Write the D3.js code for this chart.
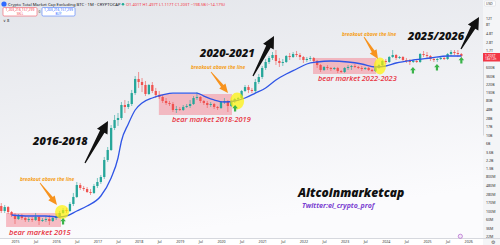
<!DOCTYPE html>
<html><head><meta charset="utf-8">
<script src="https://cdn.jsdelivr.net/npm/d3@7"></script>
<style>html,body{margin:0;padding:0;background:#fff;overflow:hidden}svg{display:block}</style>
</head><body><svg id="c" width="500" height="245"></svg>
<script>
// ---- DATA (values in billions USD, monthly candles, first candle Sep 2014) ----
const firstMonthIndex = -4; // months relative to Jan 2015
const opens = [0.135,0.100,0.127,0.0941,0.0785,0.0616,0.0739,0.0654,0.058,0.0616,0.058,0.0695,0.0546,0.058,0.0616,0.0546,0.0654,0.0739,0.0886,0.106,0.100,0.153,0.234,0.483,0.403,0.379,0.316,0.298,0.455,0.58,0.785,2.2,4.03,15.3,24.8,28.0,61.6,54.6,65.4,127,298,248,207,120,207,144,113,100,78.5,69.5,65.4,45.5,48.3,45.5,54.6,58.0,65.4,94.1,100,78.5,69.5,61.6,65.4,54.6,51.3,73.9,78.5,58.0,78.5,88.6,94.1,144,183,153,144,248,336,580,834,1063,1274,886,785,834,1199,1129,1354,1274,1129,941,1000,1063,886,695,514,616,580,546,580,483,455,580,616,654,616,580,546,580,514,483,580,695,886,834,1129,1274,1063,1129,941,886,834,886,834,1354,1274,1199,1000,941,1000,1063,1000,1354,1528,1438,1354];
const highs = [0.162,0.144,0.135,0.100,0.0886,0.0834,0.0834,0.0739,0.0695,0.0695,0.0886,0.0739,0.0654,0.0739,0.0785,0.0739,0.0834,0.100,0.120,0.120,0.172,0.298,0.580,0.546,0.455,0.428,0.379,0.514,0.739,0.886,2.64,4.83,18.3,33.6,37.9,73.9,83.4,78.5,153,357,455,316,264,220,248,173,144,113,94.1,78.5,73.9,58.0,54.6,61.6,65.4,83.4,106,135,106,83.4,78.5,73.9,69.5,58.0,78.5,94.1,83.4,83.4,94.1,100,153,207,207,173,298,403,654,1000,1199,1528,1725,1063,1000,1274,1438,1528,1624,1438,1199,1129,1199,1129,941,739,654,695,616,616,616,514,616,695,695,739,654,654,616,616,546,616,739,941,1000,1199,1725,1354,1199,1199,1063,1000,941,1000,1438,1624,1528,1274,1063,1063,1199,1129,1438,1725,1725,1725,1438];
const lows = [0.0886,0.0886,0.0834,0.0695,0.0455,0.058,0.058,0.0514,0.0514,0.0514,0.0546,0.0428,0.0514,0.0514,0.0428,0.0514,0.058,0.0654,0.0834,0.0886,0.0941,0.135,0.220,0.357,0.336,0.298,0.264,0.280,0.403,0.514,0.695,1.95,3.79,13.5,17.3,24.8,37.9,48.3,58.0,113,173,135,106,113,127,94.1,88.6,69.5,61.6,58.0,40.3,37.9,42.8,42.8,51.3,51.3,61.6,83.4,69.5,61.6,51.3,54.6,48.3,45.5,48.3,65.4,40.3,54.6,69.5,78.5,88.6,135,127,127,127,220,298,514,739,941,695,616,654,785,941,1063,1129,941,785,834,886,785,580,455,483,514,483,514,428,428,428,514,514,580,546,483,514,483,455,455,546,654,739,785,1063,941,1000,886,785,695,785,785,785,1129,1063,886,834,834,941,941,941,1199,1274,1129,1063];
const closes = [0.100,0.127,0.0941,0.0785,0.0616,0.0739,0.0654,0.058,0.0616,0.058,0.0695,0.0546,0.058,0.0616,0.0546,0.0654,0.0739,0.0886,0.106,0.100,0.153,0.234,0.483,0.403,0.379,0.316,0.298,0.455,0.58,0.785,2.2,4.03,15.3,24.8,28.0,61.6,54.6,65.4,127,298,248,207,120,207,144,113,100,78.5,69.5,65.4,45.5,48.3,45.5,54.6,58.0,65.4,94.1,100,78.5,69.5,61.6,65.4,54.6,51.3,73.9,78.5,58.0,78.5,88.6,94.1,144,183,153,144,248,336,580,834,1063,1274,886,785,834,1199,1129,1354,1274,1129,941,1000,1063,886,695,514,616,580,546,580,483,455,580,616,654,616,580,546,580,514,483,580,695,886,834,1129,1274,1063,1129,941,886,834,886,834,1354,1274,1199,1000,941,1000,1063,1000,1354,1528,1438,1354,1199];
// moving-average line
const maMonths = [-1,4,9,13,15,18,21,25,28,30,31,33,35,37,40,43,46,50,53,55,58,61,64,67,70,73,76,79,82,85,88,92,97,101,105,108,111,116,121,126,130];
const maValues = [0.0785,0.0739,0.0739,0.0695,0.0739,0.100,0.135,0.248,0.739,2.48,6.95,19.5,45.5,69.5,94.1,113,127,127,127,106,83.4,73.9,78.5,94.1,127,173,280,403,546,739,834,886,834,739,616,654,785,941,1063,1199,1199];
// axes
const priceTicks = [0.022,0.036,0.06,0.1,0.17,0.28,0.48,0.8,1.3,2.2,3.6,6,10,17,28,48,80,130,220,360,600,1700,2800,4800,8000,12000];
const priceTickLabels = ["22M","36M","60M","100M","170M","280M","480M","800M","1.3B","2.2B","3.6B","6B","10B","17B","28B","48B","80B","130B","220B","360B","600B","1.7T","2.8T","4.8T","8T","12T"];
const timeTicks = [0,6,12,18,24,30,36,42,48,54,60,66,72,78,84,90,96,102,108,114,120,126,132];
const timeTickLabels = ["2015","Jul","2016","Jul","2017","Jul","2018","Jul","2019","Jul","2020","Jul","2021","Jul","2022","Jul","2023","Jul","2024","Jul","2025","Jul","2026"];
const lastPriceLabel = "1.203T";
const countdownLabel = "18d 12h";

// ---- CHART ----
const W = 500, H = 245, plotR = 483, plotB = 238;
const svg = d3.select("#c");
const x = d3.scaleLinear().domain([0, 120]).range([15, 427]);
const y = d3.scaleLog().domain([10, 1000]).range([135, 59]);
const up = "#26a69a", down = "#ef5350";

const defs = svg.append("defs");
const g1 = defs.append("linearGradient").attr("id","bg").attr("x1",0).attr("y1",0).attr("x2",0.3).attr("y2",1);
g1.append("stop").attr("offset","0%").attr("stop-color","#e3e5ea");
g1.append("stop").attr("offset","100%").attr("stop-color","#fbfbfd");
svg.append("rect").attr("width",W).attr("height",H).attr("fill","#fff");
svg.append("rect").attr("width",plotR).attr("height",plotB).attr("fill","url(#bg)");
svg.append("rect").attr("x",plotR).attr("width",W-plotR).attr("height",H).attr("fill","#f4f5f7");

const plot = svg.append("g");
// bear-market boxes (month, value space)
const boxes = [
  {m0:-2.6, m1:13.4, v0:0.038, v1:0.0886},
  {m0:41.9, m1:63.2, v0:33.6, v1:120},
  {m0:86.8, m1:105.2, v0:403, v1:1063}
];
plot.selectAll(".box").data(boxes).join("rect")
  .attr("x", d=>x(d.m0)).attr("width", d=>x(d.m1)-x(d.m0))
  .attr("y", d=>y(d.v1)).attr("height", d=>y(d.v0)-y(d.v1))
  .attr("fill","#f48a98").attr("fill-opacity",0.55);

const candles = closes.map((c,i)=>({m:firstMonthIndex+i,o:opens[i],h:highs[i],l:lows[i],c}));
const cg = plot.append("g");
cg.selectAll("line").data(candles).join("line")
  .attr("x1",d=>x(d.m)).attr("x2",d=>x(d.m))
  .attr("y1",d=>y(d.h)).attr("y2",d=>y(d.l))
  .attr("stroke",d=>d.c>=d.o?up:down).attr("stroke-width",0.6);
cg.selectAll("rect").data(candles).join("rect")
  .attr("x",d=>x(d.m)-1.15).attr("width",2.3)
  .attr("y",d=>y(Math.max(d.o,d.c)))
  .attr("height",d=>Math.max(0.8, Math.abs(y(d.o)-y(d.c))))
  .attr("fill",d=>d.c>=d.o?up:down);

const ma = maMonths.map((m,i)=>[m,maValues[i]]);
plot.append("path").datum(ma)
  .attr("d", d3.line().x(d=>x(d[0])).y(d=>y(d[1])).curve(d3.curveMonotoneX))
  .attr("fill","none").attr("stroke","#2f55e6").attr("stroke-width",1.3);

// yellow breakout circles
const circles = [{m:13.7,v:0.094,rx:7,ry:7},{m:64.7,v:78.5,rx:7,ry:8.5},{m:106.3,v:654,rx:6,ry:8.5}];
plot.selectAll(".yc").data(circles).join("ellipse")
  .attr("cx",d=>x(d.m)).attr("cy",d=>y(d.v)).attr("rx",d=>d.rx).attr("ry",d=>d.ry)
  .attr("fill","#fff200").attr("fill-opacity",0.7);

// green up arrows (tip at month,value)
const gArrows = [{m:14,v:0.0654},{m:64.1,v:61.6},{m:115.9,v:616},{m:122.9,v:739},{m:130,v:1129}];
plot.selectAll(".ga").data(gArrows).join("path")
  .attr("d", d=>{const cx=x(d.m), t=y(d.v);
    return `M${cx},${t}L${cx+2.8},${t+3.2}L${cx+1.1},${t+3.2}L${cx+1.1},${t+6.5}L${cx-1.1},${t+6.5}L${cx-1.1},${t+3.2}L${cx-2.8},${t+3.2}Z`;})
  .attr("fill","#3bb34a");

function arrow(x1,y1,x2,y2,tailW,neckW,headW,headL){
  const dx=x2-x1, dy=y2-y1, L=Math.hypot(dx,dy), ux=dx/L, uy=dy/L, nx=-uy, ny=ux;
  const bx=x2-ux*headL, by=y2-uy*headL;
  const p=[[x1+nx*tailW/2,y1+ny*tailW/2],[bx+nx*neckW/2,by+ny*neckW/2],[bx+nx*headW/2,by+ny*headW/2],[x2,y2],
           [bx-nx*headW/2,by-ny*headW/2],[bx-nx*neckW/2,by-ny*neckW/2],[x1-nx*tailW/2,y1-ny*tailW/2]];
  return "M"+p.map(q=>q.join(",")).join("L")+"Z";
}
const ann = svg.append("g");
// orange arrows
[[40,183,57,205],[211,72,228,93],[364,37,378,59]].forEach(a=>{
  ann.append("path").attr("d",arrow(a[0],a[1],a[2],a[3],0.8,3.2,8,9)).attr("fill","#f7931e");
});
// black arrows
[[85,163,108,121],[253,76,274,36],[461,49,479,17]].forEach(a=>{
  ann.append("path").attr("d",arrow(a[0],a[1],a[2],a[3],1.2,5,12,12)).attr("fill","#111");
});

const fontIt = "'Open Sans','Liberation Sans',sans-serif";
function txt(t,xx,yy,size,color,weight){
  return ann.append("text").attr("x",xx).attr("y",yy).text(t)
    .attr("font-family",fontIt).attr("font-style","italic").attr("font-weight",weight)
    .attr("font-size",size).attr("fill",color);
}
txt("2016-2018",33,145,11,"#111",800);
txt("2020-2021",200,57,11,"#111",800);
txt("2025/2026",408,40,11,"#111",800);
txt("Altcoinmarketcap",298,196.5,12,"#111",800);
txt("Twitter:el_crypto_prof",302,207.5,7,"#7a3fd1",700);
txt("bear market 2015",9,235,7.6,"#e8323f",600);
txt("bear market 2018-2019",172,122,7.4,"#e8323f",600);
txt("bear market 2022-2023",318,81,7.4,"#e8323f",600);
txt("breakout above the line",20,181,4.8,"#f5a01a",700);
txt("breakout above the line",191,69,4.8,"#f5a01a",700);
txt("breakout above the line",342,36,4.8,"#f5a01a",700);

// ---- AXES ----
const axFont = "'Noto Sans',sans-serif";
const yAxis = svg.append("g").attr("transform",`translate(${plotR},0)`)
  .call(d3.axisRight(y).tickValues(priceTicks).tickSize(0).tickPadding(3)
    .tickFormat((d,i)=>priceTickLabels[i]));
yAxis.select(".domain").attr("stroke","#d6d8de");
yAxis.selectAll("text").attr("font-family",axFont).attr("font-size",3.6).attr("fill","#333");

const xAxis = svg.append("g").attr("transform",`translate(0,${plotB})`)
  .call(d3.axisBottom(x).tickValues(timeTicks).tickSize(0).tickPadding(2.5)
    .tickFormat((d,i)=>timeTickLabels[i]));
xAxis.select(".domain").attr("stroke","#d6d8de").attr("d",`M0,0.5H${W}`);
xAxis.selectAll("text").attr("font-family",axFont).attr("font-size",3.6).attr("fill","#333");
svg.append("rect").attr("x",0).attr("y",plotB+0.5).attr("width",plotR).attr("height",H-plotB).attr("fill","#fafafa").lower();

// last price label
const lastY = y(closes[closes.length-1]) + 1;
svg.append("rect").attr("x",plotR).attr("y",lastY-4).attr("width",W-plotR).attr("height",8.5).attr("fill","#f23645");
svg.append("text").attr("x",plotR+2).attr("y",lastY-0.2).text(lastPriceLabel)
  .attr("font-family",axFont).attr("font-size",3.4).attr("fill","#fff");
svg.append("text").attr("x",plotR+2).attr("y",lastY+3.4).text(countdownLabel)
  .attr("font-family",axFont).attr("font-size",3).attr("fill","#fff");
// USD box
svg.append("rect").attr("x",plotR+1.5).attr("y",1).attr("width",11).attr("height",5).attr("rx",1).attr("fill","#fff").attr("stroke","#c9ccd3").attr("stroke-width",0.4);
svg.append("text").attr("x",plotR+3).attr("y",4.8).text("USD").attr("font-family",axFont).attr("font-size",3.4).attr("fill","#333");
svg.append("circle").attr("cx",x(130)-1).attr("cy",236.3).attr("r",2.1).attr("fill","#f3e8f7").attr("stroke","#a64dc6").attr("stroke-width",0.6);
svg.append("text").attr("x",491).attr("y",243.5).text("⚙").attr("font-size",5).attr("fill","#555");

// ---- HEADER ----
const hd = svg.append("g").attr("font-family",axFont);
hd.append("circle").attr("cx",4).attr("cy",4).attr("r",2.6).attr("fill","#2f6bff");
hd.append("text").attr("x",8).attr("y",5.6).text("Crypto Total Market Cap Excluding BTC · 1M · CRYPTOCAP").attr("font-size",4.2).attr("fill","#131722");
hd.append("circle").attr("cx",123).attr("cy",4.2).attr("r",1.3).attr("fill","#22ab94");
hd.append("text").attr("x",126).attr("y",5.6).text("O1.401T H1.497T L1.117T C1.203T −198.5B (−14.17%)").attr("font-size",4).attr("fill","#f23645");
hd.append("rect").attr("x",3).attr("y",7.5).attr("width",34).attr("height",8.5).attr("rx",1.2).attr("fill","#fff").attr("stroke","#f23645").attr("stroke-width",0.5);
hd.append("text").attr("x",20).attr("y",11.2).attr("text-anchor","middle").text("1,203,216,157,299").attr("font-size",3.4).attr("fill","#f23645");
hd.append("text").attr("x",20).attr("y",14.8).attr("text-anchor","middle").text("SELL").attr("font-size",3).attr("fill","#f23645");
hd.append("text").attr("x",39.5).attr("y",12.8).attr("text-anchor","middle").text("0").attr("font-size",3.4).attr("fill","#333");
hd.append("rect").attr("x",42).attr("y",7.5).attr("width",33).attr("height",8.5).attr("rx",1.2).attr("fill","#fff").attr("stroke","#2962ff").attr("stroke-width",0.5);
hd.append("text").attr("x",58.5).attr("y",11.2).attr("text-anchor","middle").text("1,203,216,157,299").attr("font-size",3.4).attr("fill","#2962ff");
hd.append("text").attr("x",58.5).attr("y",14.8).attr("text-anchor","middle").text("BUY").attr("font-size",3).attr("fill","#2962ff");
hd.append("text").attr("x",3).attr("y",21.5).text("∨ 8").attr("font-size",4).attr("fill","#333");
</script></body></html>
